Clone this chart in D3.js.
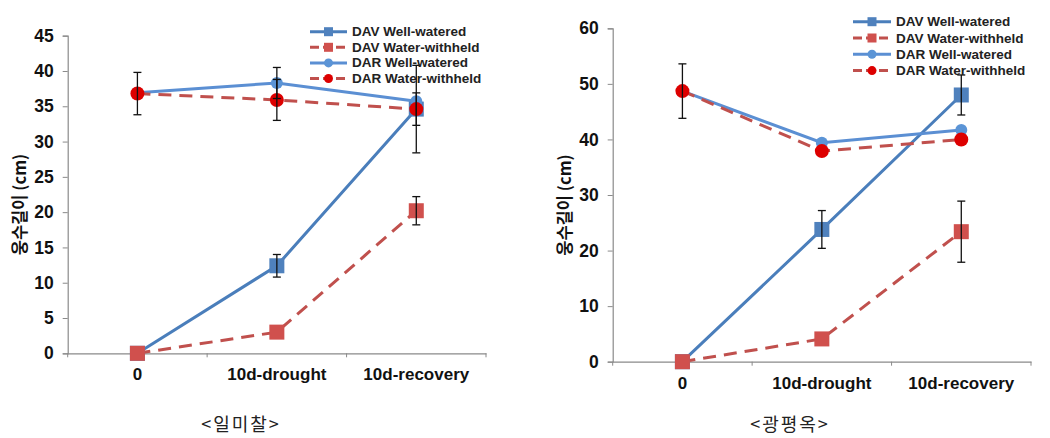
<!DOCTYPE html>
<html><head><meta charset="utf-8">
<script src="https://cdn.jsdelivr.net/npm/d3@7"></script>
<style>
html,body{margin:0;padding:0;background:#fff;}
svg{display:block;}
</style></head>
<body>
<svg id="chart" width="1050" height="438"></svg>
<script>
// ---- data ----
const categories = ["0", "10d-drought", "10d-recovery"];
const seriesNames = ["DAV Well-watered", "DAV Water-withheld", "DAR Well-watered", "DAR Water-withheld"];
const yTitle = "웅수길이 (cm)";

// left chart <일미찰>
const caption1 = "<일미찰>";
const yTicks1 = [0, 5, 10, 15, 20, 25, 30, 35, 40, 45];
const davWW1 = [0, 12.4, 34.6];
const davWH1 = [0, 3.0, 20.2];
const darWW1 = [36.9, 38.3, 35.7];
const darWH1 = [36.8, 35.9, 34.6];
const davWW1Err = [0, 1.6, 6.2];
const davWH1Err = [0, 0, 2.0];
const darWW1Err = [0, 2.2, 0];
const darWH1Err = [3.0, 2.9, 2.3];

// right chart <광평옥>
const caption2 = "<광평옥>";
const yTicks2 = [0, 10, 20, 30, 40, 50, 60];
const davWW2 = [0, 23.8, 48.0];
const davWH2 = [0, 4.1, 23.4];
const darWW2 = [48.7, 39.4, 41.7];
const darWH2 = [48.7, 37.9, 40.0];
const davWW2Err = [0, 3.4, 3.6];
const davWH2Err = [0, 0, 5.5];
const darWW2Err = [0, 0, 0];
const darWH2Err = [4.9, 0, 0];

// ---- styles ----
const styles = [
  {line: "#4A7EBB", fill: "#4F81BD", dash: null, marker: "square", size: 15},
  {line: "#C0504D", fill: "#D0504D", dash: "13,8", marker: "square", size: 15},
  {line: "#5B8FD3", fill: "#5B94D6", dash: null, marker: "circle", size: 12},
  {line: "#C0504D", fill: "#DD0000", dash: "13,8", marker: "circle", size: 14}
];
const FONT = "'Liberation Sans', Arial, sans-serif";

const svg = d3.select("#chart");

function drawChart(o) {
  const g = svg.append("g");
  const x = d3.scaleBand().domain(categories).range([o.x0, o.x1]);
  const y = d3.scaleLinear().domain([0, o.ymax]).range([o.yb, o.yt]);

  // y axis
  const ya = g.append("g").attr("transform", `translate(${o.x0},0)`)
    .call(d3.axisLeft(y).tickValues(o.ticks).tickSize(5).tickPadding(9));
  ya.select(".domain").attr("stroke", "#8a8a8a").attr("stroke-width", 1.2);
  ya.selectAll(".tick line").attr("stroke", "#8a8a8a");
  ya.selectAll("text").attr("font-family", FONT).attr("font-size", 17.5)
    .attr("font-weight", "bold").attr("fill", "#111");

  // x axis
  const xa = g.append("g").attr("transform", `translate(0,${o.yb})`)
    .call(d3.axisBottom(x).tickSize(0).tickPadding(15));
  xa.select(".domain").attr("stroke", "#8a8a8a").attr("stroke-width", 1.2);
  xa.selectAll("text").attr("font-family", FONT).attr("font-size", 17)
    .attr("font-weight", "bold").attr("fill", "#111");
  // boundary ticks between categories
  const bounds = categories.map(c => x(c)).concat([x(categories[categories.length - 1]) + x.bandwidth()]);
  g.selectAll(".bt").data(bounds).join("line")
    .attr("x1", d => d).attr("x2", d => d)
    .attr("y1", o.yb).attr("y2", o.yb + 4)
    .attr("stroke", "#8a8a8a").attr("stroke-width", 1);

  // y title
  g.append("text")
    .attr("transform", `translate(${o.titleX},${(o.yt + o.yb) / 2 + 10}) rotate(-90)`)
    .attr("text-anchor", "middle").attr("dominant-baseline", "central")
    .attr("font-family", "'Noto Sans CJK KR', " + FONT).attr("font-size", 16.5)
    .attr("font-weight", "bold").attr("fill", "#111").text(yTitle);

  const cx = c => x(c) + x.bandwidth() / 2;

  // lines
  o.series.forEach((s, i) => {
    const st = styles[i];
    const line = d3.line().x((d, j) => cx(categories[j])).y(d => y(d));
    g.append("path").datum(s.v).attr("d", line)
      .attr("fill", "none").attr("stroke", st.line).attr("stroke-width", 3)
      .attr("stroke-dasharray", st.dash);
  });
  // markers
  o.series.forEach((s, i) => {
    const st = styles[i];
    const pts = s.v.map((v, j) => ({c: categories[j], v}));
    if (st.marker === "square") {
      g.selectAll(null).data(pts).join("rect")
        .attr("x", d => cx(d.c) - st.size / 2).attr("y", d => y(d.v) - st.size / 2)
        .attr("width", st.size).attr("height", st.size).attr("fill", st.fill);
    } else {
      g.selectAll(null).data(pts).join("circle")
        .attr("cx", d => cx(d.c)).attr("cy", d => y(d.v)).attr("r", st.size / 2)
        .attr("fill", st.fill);
    }
  });
  // error bars
  o.series.forEach((s, i) => {
    const pts = s.v.map((v, j) => ({c: categories[j], v, e: s.e[j]})).filter(d => d.e > 0);
    pts.forEach(d => {
      const xx = cx(d.c);
      g.append("line").attr("x1", xx).attr("x2", xx)
        .attr("y1", y(d.v - d.e)).attr("y2", y(d.v + d.e))
        .attr("stroke", "#111").attr("stroke-width", 1.3);
      [d.v - d.e, d.v + d.e].forEach(yy => {
        g.append("line").attr("x1", xx - 4).attr("x2", xx + 4)
          .attr("y1", y(yy)).attr("y2", y(yy))
          .attr("stroke", "#111").attr("stroke-width", 1.3);
      });
    });
  });

  // legend
  const lg = g.append("g");
  seriesNames.forEach((name, i) => {
    const st = styles[i];
    const yy = o.legY + i * o.legDy;
    lg.append("line").attr("x1", o.legX).attr("x2", o.legX + o.legW)
      .attr("y1", yy).attr("y2", yy).attr("stroke", st.line).attr("stroke-width", 3)
      .attr("stroke-dasharray", st.dash ? "9,4" : null);
    const mx = o.legX + o.legW / 2;
    if (st.marker === "square") {
      lg.append("rect").attr("x", mx - 4.5).attr("y", yy - 4.5).attr("width", 9).attr("height", 9).attr("fill", st.fill);
    } else {
      lg.append("circle").attr("cx", mx).attr("cy", yy).attr("r", 4.5).attr("fill", st.fill);
    }
    lg.append("text").attr("x", o.legX + o.legW + 5).attr("y", yy)
      .attr("dominant-baseline", "central")
      .attr("font-family", FONT).attr("font-size", 13.5).attr("font-weight", "bold")
      .attr("fill", "#222").text(name);
  });

  // caption
  g.append("text").attr("x", o.capX).attr("y", 423)
    .attr("text-anchor", "middle").attr("dominant-baseline", "central")
    .attr("font-family", "'Noto Sans CJK KR', sans-serif").attr("font-size", 18)
    .attr("letter-spacing", 2).attr("fill", "#222").text(o.caption);
}

drawChart({
  x0: 67.7, x1: 486, yb: 353.3, yt: 35.7, ymax: 45, ticks: yTicks1, titleX: 19,
  series: [{v: davWW1, e: davWW1Err}, {v: davWH1, e: davWH1Err}, {v: darWW1, e: darWW1Err}, {v: darWH1, e: darWH1Err}],
  legX: 310, legY: 31.7, legDy: 15.6, legW: 37,
  caption: caption1, capX: 241
});
drawChart({
  x0: 612.7, x1: 1031, yb: 361.7, yt: 28.3, ymax: 60, ticks: yTicks2, titleX: 564,
  series: [{v: davWW2, e: davWW2Err}, {v: davWH2, e: davWH2Err}, {v: darWW2, e: darWW2Err}, {v: darWH2, e: darWH2Err}],
  legX: 853, legY: 21.7, legDy: 16.3, legW: 38,
  caption: caption2, capX: 790
});
</script>
</body></html>
